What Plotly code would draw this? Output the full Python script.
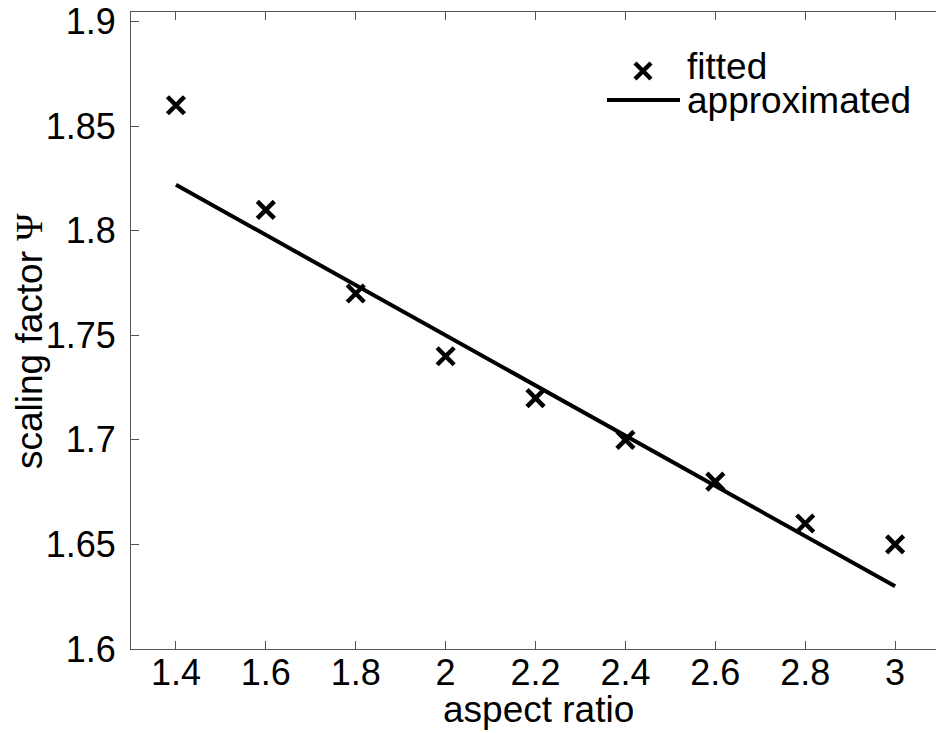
import plotly.graph_objects as go

aspect_ratio = [1.4, 1.6, 1.8, 2.0, 2.2, 2.4, 2.6, 2.8, 3.0]
fitted = [1.86, 1.81, 1.77, 1.74, 1.72, 1.70, 1.68, 1.66, 1.65]
approx_x = [1.4, 3.0]
approx_y = [1.822, 1.630]

x_ticks = [1.4, 1.6, 1.8, 2.0, 2.2, 2.4, 2.6, 2.8, 3.0]
x_tick_labels = ["1.4", "1.6", "1.8", "2", "2.2", "2.4", "2.6", "2.8", "3"]
y_ticks = [1.6, 1.65, 1.7, 1.75, 1.8, 1.85, 1.9]
y_tick_labels = ["1.6", "1.65", "1.7", "1.75", "1.8", "1.85", "1.9"]

legend_labels = ["fitted", "approximated"]

FONT = "Liberation Sans, Arial, Helvetica, sans-serif"
TXT = dict(family=FONT, size=37, color="black")

fig = go.Figure()
fig.add_trace(go.Scatter(
    x=aspect_ratio, y=fitted, mode="markers", name=legend_labels[0],
    marker=dict(symbol="x-thin", size=17, color="black",
                line=dict(color="black", width=4.5)),
))
fig.add_trace(go.Scatter(
    x=approx_x, y=approx_y, mode="lines", name=legend_labels[1],
    line=dict(color="black", width=4),
))

axis_common = dict(
    showgrid=False, zeroline=False, showline=True, linecolor="#555555",
    linewidth=1, ticks="inside", ticklen=8, tickwidth=1, tickcolor="#555555",
    tickfont=dict(family=FONT, size=36, color="black"),
)

# custom compact legend, like the original
L0 = 131.0
PW, PH = 805.0, 637.0
def px(x):
    return (x - L0) / PW
def py(y):
    return (649.0 - y) / PH

shapes = [
    dict(type="line", xref="paper", yref="paper", x0=px(607), x1=px(680),
         y0=py(100), y1=py(100), line=dict(color="black", width=4)),
    dict(type="line", xref="paper", yref="paper", x0=px(635), x1=px(651),
         y0=py(63), y1=py(79), line=dict(color="black", width=4.5)),
    dict(type="line", xref="paper", yref="paper", x0=px(635), x1=px(651),
         y0=py(79), y1=py(63), line=dict(color="black", width=4.5)),
]
annotations = [
    dict(text=legend_labels[0], xref="paper", yref="paper", x=px(685), y=py(66),
         xanchor="left", yanchor="middle", showarrow=False, font=TXT),
    dict(text=legend_labels[1], xref="paper", yref="paper", x=px(685), y=py(100),
         xanchor="left", yanchor="middle", showarrow=False, font=TXT),
    dict(text="aspect ratio", xref="paper", yref="paper", x=px(538), y=py(709),
         xanchor="center", yanchor="middle", showarrow=False, font=TXT),
    dict(text="scaling factor <span style='font-family:Liberation Serif'>Ψ</span>",
         xref="paper", yref="paper", x=px(30), y=py(341),
         xanchor="center", yanchor="middle", showarrow=False, textangle=-90, font=TXT),
]

fig.update_layout(
    width=936, height=733,
    margin=dict(l=131, r=0, t=12, b=84),
    paper_bgcolor="white", plot_bgcolor="white",
    showlegend=False,
    shapes=shapes,
    annotations=annotations,
    xaxis=dict(
        range=[1.3, 3.091], tickvals=x_ticks, ticktext=x_tick_labels,
        mirror="ticks", ticklabelstandoff=-8,
        **axis_common,
    ),
    yaxis=dict(
        range=[1.6, 1.9046], tickvals=y_ticks, ticktext=y_tick_labels,
        ticklabelstandoff=7,
        **axis_common,
    ),
)

fig.write_html("out.html")
